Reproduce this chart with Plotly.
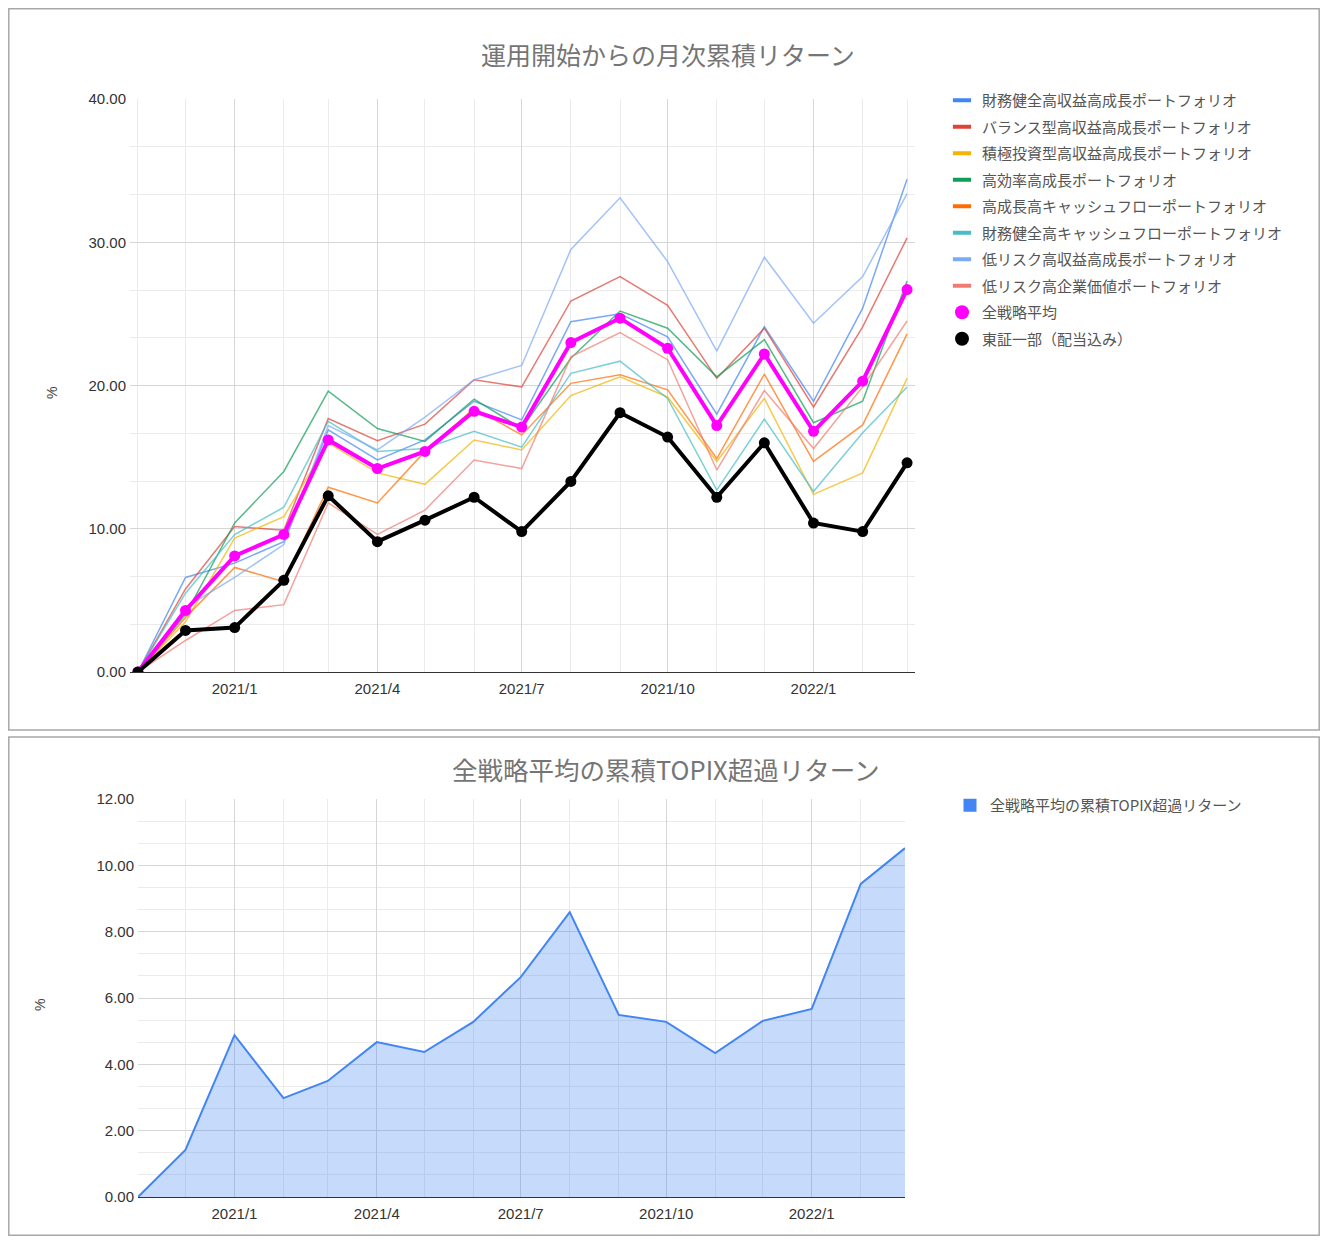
import plotly.graph_objects as go

# months (start of month) 2020/11 - 2022/3
months = ["2020-11-01", "2020-12-01", "2021-01-01", "2021-02-01", "2021-03-01",
          "2021-04-01", "2021-05-01", "2021-06-01", "2021-07-01", "2021-08-01",
          "2021-09-01", "2021-10-01", "2021-11-01", "2021-12-01", "2022-01-01",
          "2022-02-01", "2022-03-01"]

names = ["財務健全高収益高成長ポートフォリオ", "バランス型高収益高成長ポートフォリオ",
         "積極投資型高収益高成長ポートフォリオ", "高効率高成長ポートフォリオ",
         "高成長高キャッシュフローポートフォリオ", "財務健全高キャッシュフローポートフォリオ",
         "低リスク高収益高成長ポートフォリオ", "低リスク高企業価値ポートフォリオ"]
colors = ["#4285F4", "#DB4437", "#F4B400", "#0F9D58", "#FF6D01", "#46BDC6", "#7BAAF7", "#F07B72"]

zaimu_kousyueki = [0, 6.6, 7.6, 9.1, 16.9, 14.8, 16.2, 18.9, 17.6, 24.45, 25.0, 23.4, 18.0, 24.1, 18.9, 25.4, 34.4]
balance = [0, 5.8, 10.15, 9.9, 17.7, 16.15, 17.3, 20.4, 19.9, 25.9, 27.6, 25.6, 20.5, 24.0, 18.5, 24.1, 30.3]
sekkyoku = [0, 3.5, 9.35, 10.85, 16.0, 13.9, 13.1, 16.2, 15.5, 19.3, 20.6, 19.2, 14.7, 19.1, 12.4, 13.9, 20.5]
koukouritsu = [0, 4.0, 10.4, 14.0, 19.6, 17.0, 16.1, 19.05, 17.0, 21.9, 25.2, 24.0, 20.6, 23.2, 17.4, 18.9, 27.3]
kouseichou_cf = [0, 3.8, 7.3, 6.3, 12.9, 11.8, 15.4, 18.4, 16.55, 20.15, 20.75, 19.7, 14.9, 20.8, 14.7, 17.25, 23.6]
zaimu_cf = [0, 5.5, 9.6, 11.5, 17.5, 15.4, 15.6, 16.8, 15.7, 20.85, 21.7, 19.1, 12.7, 17.65, 12.6, 16.7, 19.9]
lowrisk_kousyueki = [0, 4.5, 6.6, 8.9, 17.2, 15.5, 17.8, 20.4, 21.4, 29.5, 33.1, 28.65, 22.4, 28.95, 24.35, 27.6, 33.4]
lowrisk_kigyou = [0, 2.2, 4.3, 4.7, 11.8, 9.6, 11.3, 14.8, 14.2, 22.0, 23.7, 21.8, 14.1, 19.65, 15.6, 19.9, 24.5]

all_avg = [0, 4.3, 8.1, 9.6, 16.2, 14.2, 15.4, 18.2, 17.1, 23.0, 24.7, 22.6, 17.2, 22.2, 16.8, 20.3, 26.7]
topix = [0, 2.9, 3.1, 6.4, 12.3, 9.1, 10.6, 12.2, 9.8, 13.3, 18.1, 16.4, 12.2, 16.0, 10.4, 9.8, 14.6]

excess = [0, 1.42, 4.88, 2.98, 3.5, 4.67, 4.37, 5.28, 6.63, 8.59, 5.49, 5.28, 4.34, 5.31, 5.67, 9.44, 10.52]

series = [zaimu_kousyueki, balance, sekkyoku, koukouritsu, kouseichou_cf, zaimu_cf,
          lowrisk_kousyueki, lowrisk_kigyou]

# the figure sits at (8, 8) on the page (body margin)
W, H = 1312, 1228
OX, OY = 8, 8
FONT = "Arial, 'Liberation Sans', 'Noto Sans CJK JP', sans-serif"
JFONT = "'Noto Sans CJK JP', Arial, sans-serif"


def px(x):
    return (x - OX) / W


def py(y):
    return 1 - (y - OY) / H


fig = go.Figure()

# top chart lines
for name, col, vals in zip(names, colors, series):
    fig.add_trace(go.Scatter(x=months, y=vals, mode="lines", name=name, showlegend=False,
                             line=dict(color=col, width=1.5), opacity=0.7, xaxis="x", yaxis="y"))
fig.add_trace(go.Scatter(x=months, y=all_avg, mode="lines+markers", name="全戦略平均", showlegend=False,
                         line=dict(color="#FF00FF", width=4), marker=dict(size=11, color="#FF00FF"),
                         xaxis="x", yaxis="y"))
fig.add_trace(go.Scatter(x=months, y=topix, mode="lines+markers", name="東証一部（配当込み）", showlegend=False,
                         line=dict(color="#000000", width=4), marker=dict(size=11, color="#000000"),
                         xaxis="x", yaxis="y"))

# legend entries (short bars / dots like the sheets legend)
for i, (name, col) in enumerate(zip(names, colors)):
    fig.add_trace(go.Scatter(x=[None], y=[None], mode="markers", name=name, legend="legend",
                             legendgroup="g%d" % i,
                             marker=dict(symbol="line-ew", size=13, line=dict(width=4, color=col)),
                             xaxis="x", yaxis="y"))
fig.add_trace(go.Scatter(x=[None], y=[None], mode="markers", name="全戦略平均", legend="legend",
                         legendgroup="g8", marker=dict(size=14, color="#FF00FF"), xaxis="x", yaxis="y"))
fig.add_trace(go.Scatter(x=[None], y=[None], mode="markers", name="東証一部（配当込み）", legend="legend",
                         legendgroup="g9", marker=dict(size=14, color="#000000"), xaxis="x", yaxis="y"))

# bottom chart area
fig.add_trace(go.Scatter(x=months, y=excess, mode="lines", fill="tozeroy", showlegend=False,
                         name="全戦略平均の累積TOPIX超過リターン",
                         line=dict(color="#4285F4", width=2), fillcolor="rgba(66,133,244,0.3)",
                         xaxis="x2", yaxis="y2"))
fig.add_trace(go.Scatter(x=[None], y=[None], mode="markers", name="全戦略平均の累積TOPIX超過リターン",
                         legend="legend2", marker=dict(symbol="square", size=13, color="#4285F4"),
                         xaxis="x2", yaxis="y2"))

axis_common = dict(
    type="date", tickformat="%Y/%-m", dtick="M3", tick0="2021-01-01",
    showgrid=True, gridcolor="#d6d6d6", gridwidth=1,
    minor=dict(dtick="M1", showgrid=True, gridcolor="#ebebeb", gridwidth=1),
    showline=True, linecolor="#333333", linewidth=1, ticks="", ticklabelstandoff=3,
    tickfont=dict(family=FONT, size=15, color="#333333"), zeroline=False, automargin=False,
)
yaxis_common = dict(
    tickformat=".2f", showgrid=True, gridcolor="#d6d6d6", zeroline=False, automargin=False,
    tickfont=dict(family=FONT, size=15, color="#333333"), ticklabelstandoff=3,
)

fig.update_layout(
    width=W, height=H,
    margin=dict(l=0, r=0, t=0, b=0, autoexpand=False),
    paper_bgcolor="white", plot_bgcolor="white",
    font=dict(family=FONT, color="#444444"),
    xaxis=dict(axis_common, domain=[px(130), px(915)], range=["2020-10-27", "2022-03-06"],
               anchor="y"),
    yaxis=dict(yaxis_common, domain=[py(672), py(99)], range=[0, 40], dtick=10, anchor="x",
               minor=dict(dtick=10 / 3, showgrid=True, gridcolor="#ebebeb")),
    xaxis2=dict(axis_common, domain=[px(138), px(905)], range=["2020-11-01", "2022-03-01"],
                anchor="y2"),
    yaxis2=dict(yaxis_common, domain=[py(1197), py(799)], range=[0, 12], dtick=2, anchor="x2",
                minor=dict(dtick=2 / 3, showgrid=True, gridcolor="#ebebeb")),
    legend=dict(x=px(942), y=py(84), xanchor="left", yanchor="top", bgcolor="rgba(0,0,0,0)",
                font=dict(family=JFONT, size=15, color="#555555"), tracegroupgap=4,
                itemwidth=30),
    legend2=dict(x=px(950), y=py(789), xanchor="left", yanchor="top", bgcolor="rgba(0,0,0,0)",
                 font=dict(family=JFONT, size=15, color="#555555"), itemwidth=30),
    showlegend=True,
)

fig.add_annotation(text="運用開始からの月次累積リターン", x=px(668), y=py(54), xref="paper", yref="paper",
                   showarrow=False, yanchor="middle", xanchor="center",
                   font=dict(family=JFONT, size=25, color="#757575"))
fig.add_annotation(text="全戦略平均の累積TOPIX超過リターン", x=px(665), y=py(768), xref="paper",
                   yref="paper", showarrow=False, yanchor="middle", xanchor="center",
                   font=dict(family=JFONT, size=25.5, color="#757575"))
fig.add_annotation(text="%", x=px(52), y=py(393), xref="paper", yref="paper", showarrow=False,
                   textangle=-90, yanchor="middle", xanchor="center",
                   font=dict(family=FONT, size=14, color="#444444"))
fig.add_annotation(text="%", x=px(40), y=py(1005), xref="paper", yref="paper", showarrow=False,
                   textangle=-90, yanchor="middle", xanchor="center",
                   font=dict(family=FONT, size=14, color="#444444"))

# chart frames
fig.add_shape(type="rect", xref="paper", yref="paper", x0=px(8.8), x1=px(1319.2),
              y0=py(730), y1=py(8.8), line=dict(color="#a8a8a8", width=1.5))
fig.add_shape(type="rect", xref="paper", yref="paper", x0=px(8.8), x1=px(1319.2),
              y0=py(OY + H - 0.8), y1=py(737), line=dict(color="#a8a8a8", width=1.5))

fig.write_html("out.html")
